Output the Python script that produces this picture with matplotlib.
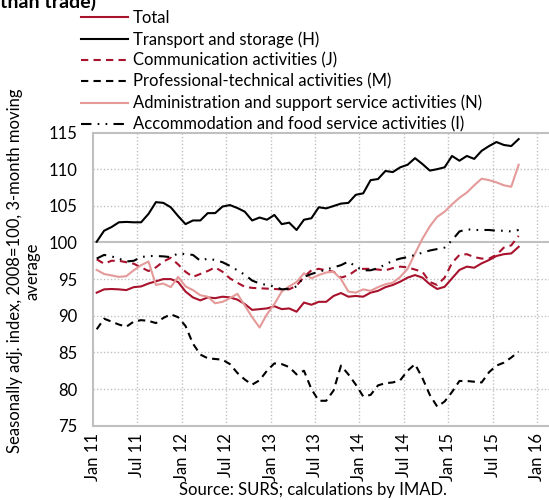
import matplotlib
matplotlib.use("Agg")
import matplotlib.pyplot as plt
import numpy as np

plt.rcParams['font.family'] = ['Lato', 'DejaVu Sans']

tick_labels = ["Jan 11", "Jul 11", "Jan 12", "Jul 12", "Jan 13", "Jul 13",
               "Jan 14", "Jul 14", "Jan 15", "Jul 15", "Jan 16"]

total = [93.15, 93.6, 93.65, 93.6, 93.5, 93.9, 94.0, 94.4, 94.7, 95.0,
         95.0, 94.6, 93.3, 92.5, 92.1, 92.5, 92.4, 92.6, 92.5, 92.2,
         91.6, 90.8, 90.9, 91.0, 91.3, 90.9, 91.0, 90.55, 91.8, 91.5,
         91.9, 91.9, 92.7, 93.1, 92.6, 92.7, 92.6, 93.15, 93.4, 93.9,
         94.2, 94.65, 95.2, 95.55, 95.2, 94.3, 93.65, 93.95, 95.1, 96.25,
         96.7, 96.55, 97.15, 97.6, 98.15, 98.4, 98.5, 99.4]

transport = [100.1, 101.6, 102.1, 102.75, 102.8, 102.75, 102.75, 103.9, 105.5, 105.4,
             104.8, 103.6, 102.5, 103.0, 103.0, 104.0, 104.0, 104.9, 105.1, 104.7,
             104.2, 103.0, 103.4, 103.1, 103.75, 102.5, 102.7, 101.7, 103.1, 103.3,
             104.8, 104.65, 104.97, 105.3, 105.4, 106.5, 106.7, 108.5, 108.65, 109.75,
             109.6, 110.25, 110.6, 111.5, 110.7, 109.8, 110.0, 110.25, 111.8, 111.15,
             111.8, 111.4, 112.5, 113.15, 113.7, 113.3, 113.15, 114.1]

communication = [97.7, 97.1, 97.5, 97.5, 97.3, 97.1, 96.6, 96.1, 96.6, 97.4,
                 97.9, 97.0, 96.0, 95.3, 95.7, 96.1, 96.6, 96.0, 95.1, 94.5,
                 93.95, 93.8, 93.75, 93.7, 93.65, 93.6, 93.6, 94.1, 95.3, 96.2,
                 96.4, 96.2, 96.0, 95.2, 95.5, 96.2, 96.4, 96.4, 96.3, 96.2,
                 96.5, 96.7, 96.6, 96.3, 96.0, 94.6, 94.2, 95.2, 97.2, 98.3,
                 98.4, 98.0, 97.8, 97.8, 98.3, 99.3, 99.6, 100.9]

professional = [88.15, 89.6, 89.2, 88.8, 88.5, 89.2, 89.4, 89.3, 89.0, 89.7,
                90.2, 89.8, 88.6, 86.2, 84.7, 84.2, 84.1, 84.0, 83.4, 82.2,
                81.3, 80.6, 81.2, 82.5, 83.5, 83.4, 83.0, 82.0, 82.5, 80.0,
                78.4, 78.4, 79.8, 83.2, 82.0, 80.6, 79.0, 79.2, 80.5, 80.8,
                80.9, 81.2, 82.5, 83.4, 81.5, 79.2, 77.6, 78.3, 79.6, 81.1,
                81.1, 81.0, 80.9, 82.3, 83.2, 83.6, 84.3, 85.1]

administration = [96.25, 95.7, 95.5, 95.3, 95.4, 96.2, 96.9, 97.4, 94.2, 94.4,
                  93.9, 95.3, 94.0, 93.5, 92.8, 92.6, 91.7, 91.9, 92.4, 93.0,
                  91.4, 89.8, 88.4, 90.2, 91.6, 93.3, 94.0, 94.6, 95.8, 95.1,
                  95.55, 95.9, 96.0, 95.0, 93.3, 93.15, 93.6, 93.4, 93.9, 94.3,
                  94.5, 95.3, 96.4, 98.5, 100.5, 102.2, 103.5, 104.2, 105.2, 106.1,
                  106.8, 107.8, 108.7, 108.5, 108.2, 107.8, 107.6, 110.6]

accommodation = [97.8, 98.3, 98.1, 97.8, 97.4, 97.5, 98.0, 98.15, 98.15, 98.1,
                 98.0, 98.5, 98.4, 98.3, 97.5, 97.8, 97.6, 97.3, 96.8, 96.2,
                 95.6, 94.8, 94.4, 94.2, 94.0, 93.6, 93.7, 94.0, 95.3, 95.7,
                 96.0, 96.3, 96.6, 96.9, 97.4, 96.7, 96.2, 96.2, 96.5, 97.0,
                 97.5, 97.8, 98.0, 98.3, 98.6, 98.9, 99.1, 99.3, 100.3, 101.5,
                 101.8, 101.7, 101.7, 101.7, 101.6, 101.6, 101.5, 101.7]

labels = ["Total", "Transport and storage (H)", "Communication activities (J)",
          "Professional-technical activities (M)",
          "Administration and support service activities (N)",
          "Accommodation and food service activities (I)"]

RED = '#a8122c'
PINK = '#e59a9a'
GRID = '#c0c0c0'

fig = plt.figure(figsize=(5.49, 5.0), dpi=100)
ax = fig.add_axes([93/549, 74.3/500, (549-93)/549, (425.7-132.5)/500])

x = np.arange(len(total)) + 0.5
lw = 1.5
l1, = ax.plot(x, total, color=RED, lw=lw)
l2, = ax.plot(x, transport, color='black', lw=lw)
l3, = ax.plot(x, communication, color=RED, lw=lw, dashes=(3.5, 2.5))
l4, = ax.plot(x, professional, color='black', lw=lw, dashes=(3.5, 2.5))
l5, = ax.plot(x, administration, color=PINK, lw=lw)
l6, = ax.plot(x, accommodation, color='black', lw=lw, dashes=(5, 3, 0.8, 3, 0.8, 3))

ax.set_xlim(0, 61.6)
ax.set_ylim(75, 115)
ax.set_xticks(np.arange(0, 61, 6))
ax.set_xticklabels(tick_labels, rotation=90, fontsize=12)
ax.set_yticks(np.arange(75, 116, 5))
ax.set_yticklabels([str(v) for v in range(75, 116, 5)], fontsize=12)
ax.tick_params(axis='both', length=0)
ax.tick_params(axis='y', pad=11)
ax.tick_params(axis='x', pad=5)

for v in range(80, 115, 5):
    if v == 100:
        ax.axhline(v, color=GRID, lw=1.5, zorder=0)
    else:
        ax.axhline(v, color=GRID, lw=1, ls=(0, (1, 1.5)), zorder=0)
for t in range(6, 61, 6):
    ax.axvline(t, color=GRID, lw=1, ls=(0, (1, 1.5)), zorder=0)

for s in ['left', 'bottom', 'top']:
    ax.spines[s].set_color(GRID)
    ax.spines[s].set_linewidth(1.5)
ax.spines['right'].set_visible(False)

ax.set_ylabel("Seasonally adj. index, 2008=100, 3-month moving\naverage",
              fontsize=12, linespacing=1.05)
ax.yaxis.set_label_coords(-0.116, 0.528)

fig.legend([l1, l2, l3, l4, l5, l6], labels, loc='upper left',
           bbox_to_anchor=(81/549, 1 - 10/500), frameon=False, fontsize=12,
           handlelength=2.8, handletextpad=0.3, labelspacing=0.3,
           borderaxespad=0, borderpad=0)

fig.text(0.0, 1 - 8/500, "than trade)", fontsize=14, fontweight='bold',
         ha='left', va='baseline')
fig.text(313/549, 1 - 490/500, "Source: SURS; calculations by IMAD.",
         fontsize=12, ha='center', va='center')

fig.savefig("out.png", dpi=100)
